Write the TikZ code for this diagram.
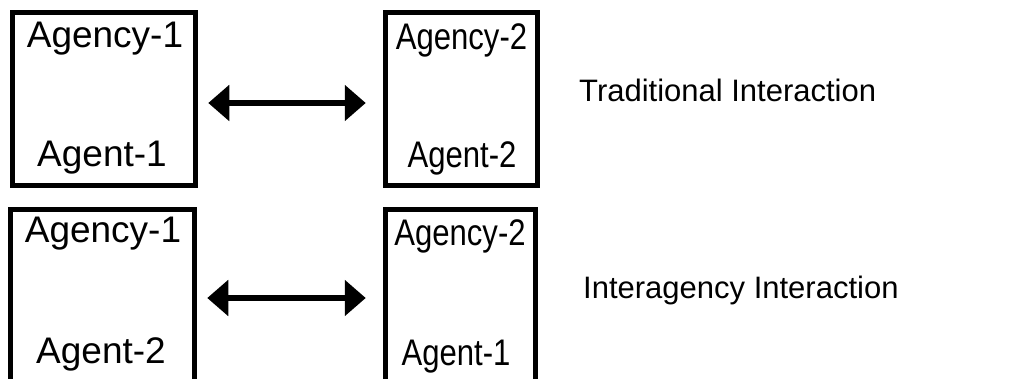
\documentclass[tikz,border=0pt]{standalone}
\usepackage{fontspec}
\setmainfont{Liberation Sans}
\usepackage{tikz}
\usetikzlibrary{arrows.meta,calc}
\newcommand{\boxfont}{\fontsize{37}{44}\selectfont}
\newcommand{\tagfont}{\fontsize{31}{37}\selectfont}
\newcommand{\narrow}[1]{\scalebox{0.84}[1]{#1}}

\begin{document}
\begin{tikzpicture}[x=1pt, y=-1pt]
\tikzstyle{agency}=[rectangle, draw=black, line width=5.5pt, inner sep=0pt]
\tikzstyle{lbl}=[inner sep=0pt, anchor=base, font=\boxfont]
\tikzstyle{tag}=[inner sep=0pt, anchor=base west, font=\tagfont]
\tikzstyle{connect}=[{Triangle[length=21pt,width=35pt]}-{Triangle[length=21pt,width=35pt]}, line width=6pt, shorten <=10pt, shorten >=17pt]

  \useasboundingbox (0,0) rectangle (1011,379);
  \clip (0,0) rectangle (1011,379);

  % traditional interaction
  \node[agency, minimum width=183pt, minimum height=173pt] (topleft)  at (104,99)    {};
  \node[agency, minimum width=152pt, minimum height=173pt] (topright) at (461.5,99)  {};
  \node[lbl] (agencyA) at (105,48)    {Agency-1};
  \node[lbl] (agentA)  at (102,167)   {Agent-1};
  \node[lbl] (agencyB) at (461.5,50)  {\narrow{Agency-2}};
  \node[lbl] (agentB)  at (462,168)   {\narrow{Agent-2}};
  \node[tag] (traditional) at (579,102) {Traditional Interaction};

  % interagency interaction
  \node[agency, minimum width=184pt, minimum height=173pt] (botleft)  at (102.5,296) {};
  \node[agency, minimum width=150pt, minimum height=173pt] (botright) at (460.5,296) {};
  \node[lbl] (agencyC) at (103,243)   {Agency-1};
  \node[lbl] (agentC)  at (101,363)   {Agent-2};
  \node[lbl] (agencyD) at (460,245)   {\narrow{Agency-2}};
  \node[lbl] (agentD)  at (456,365)   {\narrow{Agent-1}};
  \node[tag] (interagency) at (583,298) {Interagency Interaction};

  \draw[connect] ([yshift=-4pt]topleft.east) -- ([yshift=-4pt]topright.west);
  \draw[connect] ([yshift=-2pt]botleft.east) -- ([yshift=-2pt]botright.west);

\end{tikzpicture}
\end{document}
